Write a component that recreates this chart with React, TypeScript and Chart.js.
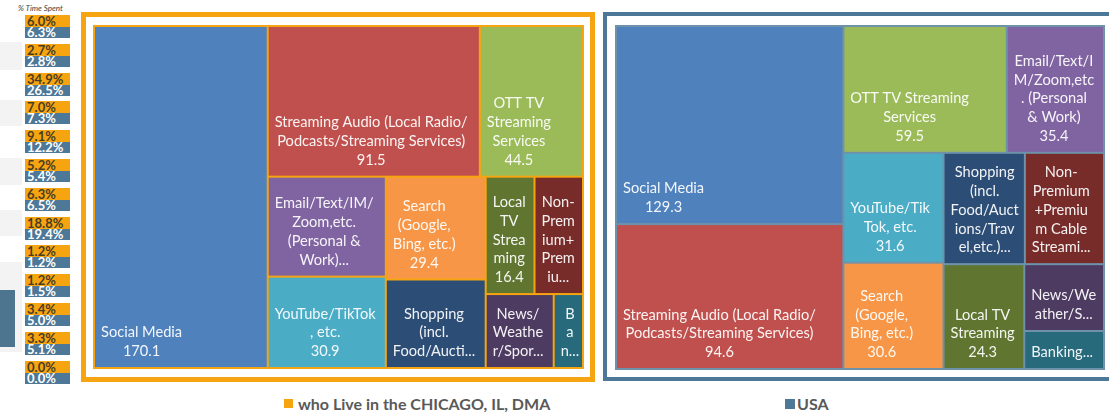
import React, { useEffect, useRef } from "react";
import { Chart, registerables } from "chart.js";

Chart.register(...registerables);

// ---------- data ----------
const categories = [
  "Social Media",
  "Streaming Audio (Local Radio/ Podcasts/Streaming Services)",
  "OTT TV Streaming Services",
  "Email/Text/IM/Zoom,etc. (Personal & Work)",
  "YouTube/TikTok, etc.",
  "Search (Google, Bing, etc.)",
  "Shopping (incl. Food/Auctions/Travel,etc.)",
  "Local TV Streaming",
  "Non-Premium+Premium Cable Streaming",
  "News/Weather/Sports",
  "Banking Services",
];
const categoryColors = [
  "#4f81bd",
  "#c0504d",
  "#9bbb59",
  "#8064a2",
  "#4bacc6",
  "#f79646",
  "#2c4d75",
  "#5f7530",
  "#772c2a",
  "#4d3b62",
  "#276a7c",
];
const chicagoHours = [170.1, 91.5, 44.5, 33.8, 30.9, 29.4, 25.3, 16.4, 16.3, 14.4, 6.2];
const usaHours = [129.3, 94.6, 59.5, 35.4, 31.6, 30.6, 26.0, 24.3, 25.3, 15.3, 8.7];

const pctChicago = [6.0, 2.7, 34.9, 7.0, 9.1, 5.2, 6.3, 18.8, 1.2, 1.2, 3.4, 3.3, 0.0];
const pctUsa = [6.3, 2.8, 26.5, 7.3, 12.2, 5.4, 6.5, 19.4, 1.2, 1.5, 5.0, 5.1, 0.0];

const pctHeader = "% Time Spent";
const chicagoLegend = "who Live in the CHICAGO, IL, DMA";
const usaLegend = "USA";

// ---------- style ----------
const ORANGE = "#f6a511";
const SLATE = "#4e7897";
const LABEL_FONT = "Lato, 'Open Sans', sans-serif";
const WIDE_PENALTY = 1.57;
const LINE_H = 18.8;
const WRAP_PAD_X = 5.7;
const DRAW_PAD_X = 6;
const PAD_Y = 6;
const BOTTOM_OFFSET = 15.5;
const WRAP_PX = 16;

// advance widths (1/2048 em) of a Calibri-like face, used for line breaking
const ADV: Record<string, number> = {
  " ": 463, "%": 1464, "&": 1397, "(": 621, ")": 621, "+": 1020, ",": 511, "-": 627, ".": 517, "/": 791,
  "0": 1038, "1": 1038, "2": 1038, "3": 1038, "4": 1038, "5": 1038, "6": 1038, "7": 1038, "8": 1038, "9": 1038,
  A: 1185, B: 1114, C: 1092, D: 1260, E: 1000, F: 941, G: 1292, H: 1276, I: 516, J: 653, K: 1064, L: 861,
  M: 1751, N: 1322, O: 1356, P: 1058, Q: 1378, R: 1112, S: 941, T: 998, U: 1314, V: 1162, W: 1822, X: 1063,
  Y: 998, Z: 959,
  a: 981, b: 1076, c: 866, d: 1076, e: 1019, f: 625, g: 964, h: 1076, i: 470, j: 490, k: 931, l: 470,
  m: 1636, n: 1076, o: 1080, p: 1076, q: 1076, r: 714, s: 801, t: 686, u: 1076, v: 925, w: 1464, x: 887,
  y: 927, z: 809,
};
// hinted (whole-pixel) advance at WRAP_PX
function tw(s: string) {
  let w = 0;
  for (const ch of s) w += Math.round(((ADV[ch] ?? 1000) * WRAP_PX) / 2048);
  return w;
}

type Item = { label: string; v: number; color: string };
type Cell = Item & { x: number; y: number; w: number; h: number };
type Rect = { x: number; y: number; w: number; h: number };

function aspect(w: number, h: number) {
  return w >= h ? (WIDE_PENALTY * w) / h : h / w;
}

function worst(row: Item[], side: number, scale: number, horiz: boolean) {
  const sum = row.reduce((s, it) => s + it.v, 0);
  const thick = (sum * scale) / side;
  let m = 0;
  for (const it of row) {
    const len = (it.v * scale) / thick;
    const r = horiz ? aspect(len, thick) : aspect(thick, len);
    if (r > m) m = r;
  }
  return m;
}

function squarify(items: Item[], rect: Rect, out: Cell[]) {
  if (!items.length) return;
  const total = items.reduce((s, it) => s + it.v, 0);
  const scale = (rect.w * rect.h) / total;
  const horiz = rect.w <= rect.h;
  const side = horiz ? rect.w : rect.h;
  let n = 1;
  let best = worst(items.slice(0, 1), side, scale, horiz);
  while (n < items.length) {
    const w2 = worst(items.slice(0, n + 1), side, scale, horiz);
    if (w2 <= best) {
      best = w2;
      n++;
    } else break;
  }
  const row = items.slice(0, n);
  const rowSum = row.reduce((s, it) => s + it.v, 0);
  const thick = (rowSum * scale) / side;
  let off = 0;
  for (const it of row) {
    const len = (it.v * scale) / thick;
    if (horiz) out.push({ ...it, x: rect.x + off, y: rect.y, w: len, h: thick });
    else out.push({ ...it, x: rect.x, y: rect.y + off, w: thick, h: len });
    off += len;
  }
  const rest: Rect = horiz
    ? { x: rect.x, y: rect.y + thick, w: rect.w, h: rect.h - thick }
    : { x: rect.x + thick, y: rect.y, w: rect.w - thick, h: rect.h };
  squarify(items.slice(n), rest, out);
}

function wrapText(text: string, maxW: number) {
  const fits = (s: string) => tw(s) <= maxW;
  const tokens: { t: string; sp: boolean }[] = [];
  text.split(" ").forEach((w, wi) => {
    w.split(/(?<=-)/).forEach((p, pi) => tokens.push({ t: p, sp: wi > 0 && pi === 0 }));
  });
  const lines: string[] = [];
  let cur = "";
  for (const tk of tokens) {
    const cand = cur === "" ? tk.t : cur + (tk.sp ? " " : "") + tk.t;
    if (fits(cand)) {
      cur = cand;
    } else if (cur !== "" && fits(tk.t)) {
      lines.push(cur);
      cur = tk.t;
    } else {
      if (cur !== "") {
        lines.push(cur);
        cur = "";
      }
      for (const ch of tk.t) {
        if (cur === "" || fits(cur + ch)) cur += ch;
        else {
          lines.push(cur);
          cur = ch;
        }
      }
    }
  }
  if (cur !== "") lines.push(cur);
  return lines;
}

let calibratedPx = 0;
function labelFontPx(ctx: CanvasRenderingContext2D) {
  if (!calibratedPx) {
    ctx.font = `100px ${LABEL_FONT}`;
    const w = ctx.measureText("Streaming Audio (Local Radio/").width;
    calibratedPx = (100 * 193) / w;
  }
  return calibratedPx;
}

function makeTreemapPlugin(values: number[], gapColor: string) {
  return {
    id: "treemapCells",
    beforeDraw(chart: any) {
      const ctx = chart.ctx as CanvasRenderingContext2D;
      ctx.save();
      ctx.fillStyle = gapColor;
      ctx.fillRect(0, 0, chart.width, chart.height);
      ctx.restore();
    },
    afterDatasetsDraw(chart: any) {
      const ctx = chart.ctx as CanvasRenderingContext2D;
      const xs = chart.scales.x;
      const ys = chart.scales.y;
      const W = xs.getPixelForValue(1) - xs.getPixelForValue(0);
      const H = ys.getPixelForValue(1) - ys.getPixelForValue(0);
      const items: Item[] = categories
        .map((label, i) => ({ label, v: values[i], color: categoryColors[i] }))
        .sort((a, b) => b.v - a.v);
      const cells: Cell[] = [];
      squarify(items, { x: 0, y: 0, w: W, h: H }, cells);
      const fpx = labelFontPx(ctx);
      ctx.save();
      for (const c of cells) {
        const x0 = xs.getPixelForValue(c.x / W) + 1;
        const x1 = xs.getPixelForValue((c.x + c.w) / W) - 1;
        const y0 = ys.getPixelForValue(c.y / H) + 1;
        const y1 = ys.getPixelForValue((c.y + c.h) / H) - 1;
        ctx.fillStyle = c.color;
        ctx.fillRect(x0, y0, x1 - x0, y1 - y0);

        const avail = x1 - x0 - 2 * WRAP_PAD_X;
        let lines = wrapText(c.label, avail);
        lines.push(c.v.toFixed(1));
        const maxLines = Math.max(1, Math.floor((y1 - y0 - 2 * PAD_Y) / LINE_H));
        if (lines.length > maxLines) {
          lines = lines.slice(0, maxLines);
          let last = lines[maxLines - 1];
          while (last.length > 1 && tw(last + "...") > avail) last = last.slice(0, -1);
          lines[maxLines - 1] = last + "...";
        }
        ctx.font = `${fpx}px ${LABEL_FONT}`;
        const blockW = Math.max(...lines.map((l) => ctx.measureText(l).width));
        const cx = x0 + DRAW_PAD_X + blockW / 2;
        const lastY = y1 - BOTTOM_OFFSET;
        ctx.fillStyle = "rgba(255,255,255,0.93)";
        ctx.textAlign = "center";
        ctx.textBaseline = "middle";
        lines.forEach((l, i) => {
          ctx.fillText(l, cx, lastY - (lines.length - 1 - i) * LINE_H);
        });
      }
      ctx.restore();
    },
  };
}

function Treemap(props: { values: number[]; gapColor: string; left: number; top: number; width: number; height: number }) {
  const ref = useRef<HTMLCanvasElement | null>(null);
  useEffect(() => {
    if (!ref.current) return;
    const chart = new Chart(ref.current, {
      type: "scatter",
      data: { datasets: [{ data: [] }] },
      options: {
        animation: false,
        responsive: false,
        maintainAspectRatio: false,
        layout: { padding: 1 },
        scales: {
          x: { type: "linear", min: 0, max: 1, display: false },
          y: { type: "linear", min: 0, max: 1, display: false, reverse: true },
        },
        plugins: { legend: { display: false }, tooltip: { enabled: false } },
      },
      plugins: [makeTreemapPlugin(props.values, props.gapColor)],
    } as any);
    return () => chart.destroy();
  }, []);
  return (
    <canvas
      ref={ref}
      width={props.width}
      height={props.height}
      style={{ position: "absolute", left: props.left, top: props.top, width: props.width, height: props.height }}
    />
  );
}

function PctTable() {
  return (
    <>
      <div
        style={{
          position: "absolute",
          left: 18,
          top: 3,
          fontSize: 8,
          fontStyle: "italic",
          color: "#404040",
          whiteSpace: "nowrap",
          fontFamily: LABEL_FONT,
        }}
      >
        {pctHeader}
      </div>
      {pctChicago.map((p, i) => {
        const top = 15 + i * 28.8;
        return (
          <React.Fragment key={i}>
            <div
              style={{
                position: "absolute",
                left: 25,
                top,
                width: 45,
                height: 12,
                background: ORANGE,
                color: "#4a3d22",
                fontWeight: 700,
                fontSize: 13,
                lineHeight: "12px",
                paddingLeft: 2,
                boxSizing: "border-box",
                fontFamily: LABEL_FONT,
              }}
            >
              {p.toFixed(1)}%
            </div>
            <div
              style={{
                position: "absolute",
                left: 25,
                top: top + 12,
                width: 45,
                height: 11,
                background: SLATE,
                color: "#ffffff",
                fontWeight: 700,
                fontSize: 13,
                lineHeight: "11px",
                paddingLeft: 2,
                boxSizing: "border-box",
                fontFamily: LABEL_FONT,
              }}
            >
              {pctUsa[i].toFixed(1)}%
            </div>
          </React.Fragment>
        );
      })}
    </>
  );
}

export default function App() {
  const greyBands = [
    [42, 28],
    [100, 26],
    [158, 27],
    [210, 26],
    [262, 90],
  ];
  return (
    <div
      style={{
        position: "absolute",
        left: 0,
        top: 0,
        width: 1109,
        height: 417,
        overflow: "hidden",
        background: "#ffffff",
        fontFamily: LABEL_FONT,
      }}
    >
      {greyBands.map(([t, h], i) => (
        <div key={i} style={{ position: "absolute", left: 0, top: t, width: 22, height: h, background: "#f3f3f3" }} />
      ))}
      <div style={{ position: "absolute", left: 0, top: 290, width: 15, height: 57, background: "#4e7590" }} />
      <PctTable />

      <div
        style={{
          position: "absolute",
          left: 81,
          top: 12,
          width: 514,
          height: 370,
          border: `5px solid ${ORANGE}`,
          boxSizing: "border-box",
        }}
      />
      <div
        style={{
          position: "absolute",
          left: 603,
          top: 12,
          width: 540,
          height: 369,
          border: `4px solid ${SLATE}`,
          boxSizing: "border-box",
        }}
      />
      <Treemap values={chicagoHours} gapColor={ORANGE} left={93} top={25} width={491} height={344} />
      <Treemap values={usaHours} gapColor="#6f92ab" left={615} top={25} width={490} height={345} />

      <div style={{ position: "absolute", left: 284, top: 399, width: 9, height: 9, background: ORANGE }} />
      <div
        style={{
          position: "absolute",
          left: 298,
          top: 394,
          fontSize: 16,
          fontWeight: 700,
          color: "#595959",
          whiteSpace: "nowrap",
          lineHeight: "20px",
        }}
      >
        {chicagoLegend}
      </div>
      <div style={{ position: "absolute", left: 785, top: 399, width: 10, height: 10, background: SLATE }} />
      <div
        style={{
          position: "absolute",
          left: 797,
          top: 394,
          fontSize: 16,
          fontWeight: 700,
          color: "#595959",
          whiteSpace: "nowrap",
          lineHeight: "20px",
        }}
      >
        {usaLegend}
      </div>
    </div>
  );
}
